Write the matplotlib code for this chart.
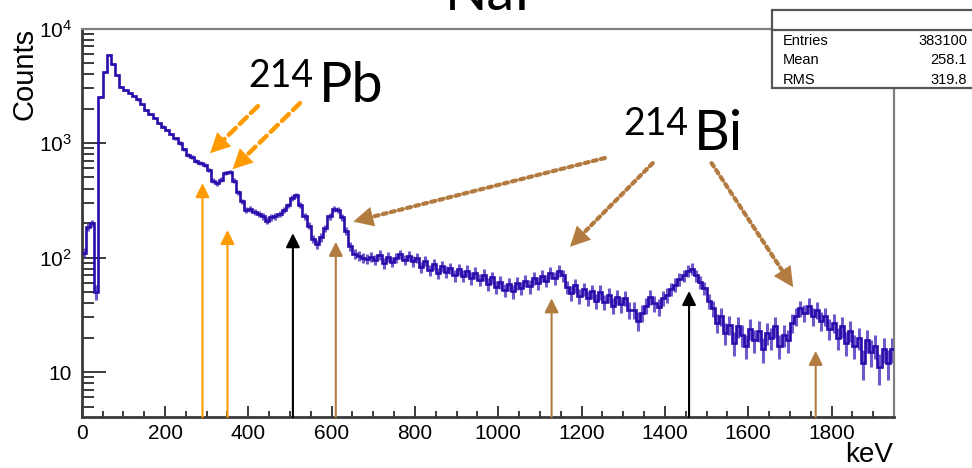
"""
NaI spectrum with 214Pb / 214Bi line markers (ROOT-style histogram look).
"""
import numpy as np
import matplotlib
matplotlib.use("Agg")
import matplotlib.pyplot as plt
from matplotlib.patches import Rectangle
from matplotlib.ticker import FixedLocator, FixedFormatter, MultipleLocator

plt.rcParams['font.family'] = ['Liberation Sans', 'DejaVu Sans']
plt.rcParams['mathtext.fontset'] = 'custom'
plt.rcParams['mathtext.rm'] = 'Liberation Sans'

# ------------------------------------------------------------
# Data: counts per 10 keV bin, 0 .. 1950 keV
# ------------------------------------------------------------
BIN_WIDTH = 10
counts = [
    110, 185, 200, 50, 2500, 4200, 5900, 4900, 3900, 3100,          # 0
    2900, 2750, 2550, 2400, 2200, 1950, 1800, 1650, 1500, 1390,     # 100
    1300, 1200, 1100, 1000, 880, 790, 760, 700, 670, 640,           # 200
    580, 470, 445, 480, 545, 560, 470, 370, 310, 260,               # 300
    265, 250, 240, 230, 210, 225, 230, 240, 260, 285,               # 400
    330, 350, 290, 230, 190, 145, 130, 150, 180, 230,               # 500
    265, 260, 225, 170, 125, 108, 103, 100, 98, 101,                # 600
    96, 106, 89, 102, 92, 100, 107, 95, 104, 93,                    # 700
    100, 83, 94, 78, 87, 73, 84, 75, 81, 70,                        # 800
    79, 69, 77, 66, 74, 64, 71, 59, 67, 55,                         # 900
    61, 52, 59, 51, 60, 54, 63, 56, 66, 60,                         # 1000
    69, 63, 74, 66, 77, 70, 55, 49, 57, 46,                         # 1100
    53, 44, 51, 42, 50, 41, 47, 38, 45, 39,                         # 1200
    44, 35, 35, 28, 33, 38, 45, 40, 37, 44,                         # 1300
    47, 53, 58, 65, 70, 77, 80, 70, 61, 54,                         # 1400
    42, 36, 27, 31, 22, 26, 18, 25, 21, 17,                         # 1500
    24, 19, 23, 16, 22, 20, 25, 17, 21, 19,                         # 1600
    27, 31, 36, 33, 38, 31, 35, 28, 31, 24,                         # 1700
    27, 20, 25, 18, 23, 17, 20, 12, 19, 15,                         # 1800
    17, 11, 16, 12, 16,                                             # 1900
]

# Marker arrows: energy (keV), tip height (counts), colour
line_energy = [290, 350, 507, 610, 1128, 1458, 1762]
line_tip    = [446, 174, 163, 137, 44, 51, 15.3]
line_color  = ['#ff9a00', '#ff9a00', 'black', '#b27b40', '#b27b40', 'black', '#b27b40']

# Label arrows: (start E, start counts) -> (tip E, tip counts)
pb_start = [(423, 2100), (524, 2230)]
pb_tip   = [(308, 813), (362, 589)]
bi_start = [(1256, 740), (1371, 668), (1512, 668)]
bi_tip   = [(652, 206), (1172, 124), (1708, 55)]

stats_names  = ['Entries', 'Mean', 'RMS']
stats_values = ['383100', '258.1', '319.8']

ORANGE = '#ff9a00'
BROWN = '#b27b40'
HIST_C = '#2b0cab'
ERR_C = '#4a30c0'
SPINE_DARK = '#3a3a3a'
SPINE_GREY = '#808080'
HEAD_MS = 36  # mutation scale of the big arrow heads


def flecha(ax, start, tip, color, lw, ls):
    """Line with a pattern (dashed / dotted) and a solid filled head."""
    ax.annotate('', xy=tip, xytext=start,
                arrowprops=dict(arrowstyle='-', color=color, lw=lw, ls=ls,
                                shrinkA=0, shrinkB=0.35 * HEAD_MS), zorder=5)
    ax.annotate('', xy=tip, xytext=start,
                arrowprops=dict(arrowstyle='-|>', color=color, lw=0,
                                mutation_scale=HEAD_MS, shrinkA=0, shrinkB=0),
                zorder=5)


def main():
    y = np.array(counts, dtype=float)
    edges = np.arange(len(y) + 1) * BIN_WIDTH
    centers = edges[:-1] + BIN_WIDTH / 2

    fig = plt.figure(figsize=(9.72, 4.68), dpi=100)
    ax = fig.add_axes([81.7 / 972, 51 / 468, (894 - 81.7) / 972, (417 - 28.5) / 468])

    ax.errorbar(centers, y, yerr=np.sqrt(y), fmt='none', ecolor=ERR_C,
                elinewidth=2.2, alpha=0.8, zorder=2)
    ax.stairs(y, edges, color=HIST_C, lw=1.9, baseline=None, zorder=3)

    ax.set_yscale('log')
    ax.set_xlim(0, 1950)
    ax.set_ylim(4.05, 1e4)

    # ticks
    ax.xaxis.set_major_locator(MultipleLocator(200))
    ax.xaxis.set_minor_locator(MultipleLocator(50))
    ymaj = [10, 100, 1000, 10000]
    ax.yaxis.set_major_locator(FixedLocator(ymaj))
    ax.yaxis.set_major_formatter(FixedFormatter(
        ['10', r'$\mathregular{10^{2}}$', r'$\mathregular{10^{3}}$', r'$\mathregular{10^{4}}$']))
    ymin = [m * 10 ** d for d in range(0, 4) for m in range(2, 10)]
    ax.yaxis.set_minor_locator(FixedLocator([v for v in ymin if v > 4]))
    ax.yaxis.set_minor_formatter(FixedFormatter([]))

    ax.tick_params(axis='x', which='major', direction='in', length=8, width=1.4,
                   color=SPINE_DARK, labelsize=15, pad=5, top=False)
    ax.tick_params(axis='x', which='minor', direction='in', length=4, width=1.4,
                   color=SPINE_DARK, top=False)
    ax.tick_params(axis='y', which='major', direction='in', length=17, width=1.4,
                   color=SPINE_DARK, labelsize=15, pad=7, right=False)
    ax.tick_params(axis='y', which='minor', direction='in', length=8.5, width=1.4,
                   color=SPINE_DARK, right=False)

    ax.spines['left'].set_color(SPINE_DARK)
    ax.spines['bottom'].set_color(SPINE_DARK)
    ax.spines['left'].set_linewidth(2)
    ax.spines['bottom'].set_linewidth(2)
    ax.spines['top'].set_color(SPINE_GREY)
    ax.spines['right'].set_color(SPINE_GREY)
    ax.spines['top'].set_linewidth(1.6)
    ax.spines['right'].set_linewidth(1.6)

    # vertical marker arrows from the bottom axis
    for e, tip, c in zip(line_energy, line_tip, line_color):
        ax.annotate('', xy=(e, tip), xytext=(e, 4.05),
                    arrowprops=dict(arrowstyle='-|>', color=c, lw=1.5,
                                    mutation_scale=21, shrinkA=0, shrinkB=0),
                    zorder=4)

    # dashed orange arrows (214Pb), dotted brown arrows (214Bi)
    for s, t in zip(pb_start, pb_tip):
        flecha(ax, s, t, ORANGE, 3.2, (0, (2.2, 1.3)))
    for s, t in zip(bi_start, bi_tip):
        flecha(ax, s, t, BROWN, 3.0, (0, (1, 1)))

    # axis titles
    fig.text(24 / 972, 1 - 28 / 468, 'Counts', rotation=90, ha='center', va='top',
             fontsize=21)
    fig.text(893 / 972, 1 - 462 / 468, 'keV', ha='right', va='baseline', fontsize=20)

    # big labels
    big = dict(family=['Lato', 'DejaVu Sans'], color='black')
    fig.text(488 / 972, 1 - 10 / 468, 'NaI', ha='center', va='baseline', fontsize=40, **big)
    fig.text(248 / 972, 1 - 86.7 / 468, '214', ha='left', va='baseline', fontsize=27, **big)
    fig.text(319 / 972, 1 - 101.7 / 468, 'Pb', ha='left', va='baseline', fontsize=40, **big)
    fig.text(623 / 972, 1 - 135 / 468, '214', ha='left', va='baseline', fontsize=27, **big)
    fig.text(694 / 972, 1 - 150 / 468, 'Bi', ha='left', va='baseline', fontsize=40, **big)

    # stats box
    x0, x1 = 772 / 972, 1.02
    ytop, yhead, ybot = 1 - 10 / 468, 1 - 30 / 468, 1 - 88 / 468
    fig.add_artist(Rectangle((x0, ybot), x1 - x0, ytop - ybot, transform=fig.transFigure,
                             facecolor='white', edgecolor='#555555', lw=1.6, zorder=10))
    fig.add_artist(plt.Line2D([x0, x1], [yhead, yhead], transform=fig.transFigure,
                              color='#555555', lw=1.6, zorder=11))
    for i, (n, v) in enumerate(zip(stats_names, stats_values)):
        yy = 1 - (41 + 19.5 * i) / 468
        fig.text(783 / 972, yy, n, ha='left', va='center', fontsize=10.5, zorder=12)
        fig.text(967 / 972, yy, v, ha='right', va='center', fontsize=10.5, zorder=12)

    fig.savefig('out.png', dpi=100)


if __name__ == '__main__':
    main()
